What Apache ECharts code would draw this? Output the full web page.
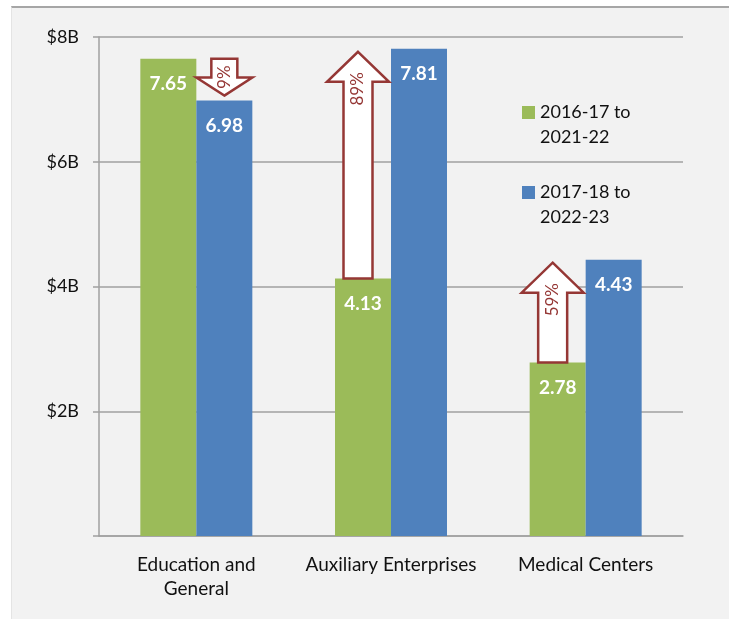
<!DOCTYPE html>
<html>
<head>
<meta charset="utf-8">
<script src="https://cdn.jsdelivr.net/npm/echarts@6/dist/echarts.min.js"></script>
<style>
html,body{margin:0;padding:0;background:#fff;}
#panel{position:absolute;left:11px;top:6px;width:718px;height:613px;background:#f2f2f2;border-top:2px solid #a6a6a6;border-left:1px solid #e4e4e4;box-sizing:border-box;}
#container{position:absolute;left:0;top:0;width:729px;height:619px;}
</style>
</head>
<body>
<div id="panel"></div>
<div id="container"></div>
<script>
var categories = ['Education and\nGeneral', 'Auxiliary Enterprises', 'Medical Centers'];
var seriesNames = ['2016-17 to 2021-22', '2017-18 to 2022-23'];
var earlyValues = [7.65, 4.13, 2.78];
var lateValues = [6.98, 7.81, 4.43];
var changeLabels = ['9%', '89%', '59%'];
var yTicks = [0, 2, 4, 6, 8];

var FONT = 'Lato, "Noto Sans", sans-serif';
var arrowRed = '#953735';

// arrow data: category, from (early), to (late), label
var arrowData = [];
for (var i = 0; i < categories.length; i++) {
	arrowData.push([i, earlyValues[i], lateValues[i], changeLabels[i]]);
}

function renderArrow(params, api) {
	var from = api.coord([api.value(0), api.value(1)]);
	var to = api.coord([api.value(0), api.value(2)]);
	var down = api.value(2) < api.value(1);
	var pts, cx, hw, sw, headH, tipY, baseY, textY;
	if (down) {
		//down arrow sits over the second bar
		cx = from[0] + 28;
		hw = 28; sw = 13; headH = 18;
		baseY = from[1];
		tipY = to[1] - 5;
		pts = [[cx, tipY], [cx + hw, tipY - headH], [cx + sw, tipY - headH], [cx + sw, baseY],
			[cx - sw, baseY], [cx - sw, tipY - headH], [cx - hw, tipY - headH]];
		textY = (baseY + tipY) / 2;
	} else {
		cx = from[0] - 33;
		hw = 31; sw = 14.5; headH = 30;
		baseY = from[1];
		tipY = to[1] + 3;
		pts = [[cx, tipY], [cx + hw, tipY + headH], [cx + sw, tipY + headH], [cx + sw, baseY],
			[cx - sw, baseY], [cx - sw, tipY + headH], [cx - hw, tipY + headH]];
		textY = tipY + 37;
	}
	return {
		type: 'group',
		children: [{
			type: 'polygon',
			shape: {points: pts},
			style: {fill: '#ffffff', stroke: arrowRed, lineWidth: 2.5}
		}, {
			type: 'text',
			x: cx,
			y: textY,
			rotation: Math.PI / 2,
			style: {
				text: api.value(3),
				x: 0, y: 0,
				align: 'center', verticalAlign: 'middle',
				textAlign: 'center', textVerticalAlign: 'middle',
				fill: arrowRed,
				font: '17px ' + FONT
			}
		}]
	};
}

var legendText = {
	color: '#111',
	fontSize: 18,
	fontFamily: FONT,
	lineHeight: 25
};
//blank first line so the icon lines up with the first text line
function legendFormat(n) {
	return '\n' + n.replace(' to ', ' to\n');
}

var option = {
	backgroundColor: 'transparent',
	animation: false,
	grid: {left: 99, right: 46, top: 37, bottom: 83, containLabel: false},
	legend: [{
		data: [seriesNames[0]],
		left: 522, top: 75, padding: 0,
		itemWidth: 13, itemHeight: 13, itemGap: 5,
		icon: 'rect',
		formatter: legendFormat,
		textStyle: legendText
	}, {
		data: [seriesNames[1]],
		left: 522, top: 155, padding: 0,
		itemWidth: 13, itemHeight: 13, itemGap: 5,
		icon: 'rect',
		formatter: legendFormat,
		textStyle: legendText
	}],
	xAxis: {
		type: 'category',
		data: categories,
		axisLine: {show: true, lineStyle: {color: '#a0a0a0', width: 1.5}},
		axisTick: {show: false},
		axisLabel: {
			color: '#111', fontSize: 19, fontFamily: FONT,
			lineHeight: 24, margin: 17, interval: 0
		}
	},
	yAxis: {
		type: 'value',
		min: yTicks[0], max: yTicks[yTicks.length - 1], interval: 2,
		axisLine: {show: true, lineStyle: {color: '#a0a0a0', width: 1.5}},
		axisTick: {show: true, length: 6, lineStyle: {color: '#a0a0a0', width: 1.5}},
		splitLine: {show: true, lineStyle: {color: '#a0a0a0', width: 1.5}},
		axisLabel: {
			color: '#111', fontSize: 18, fontFamily: FONT, margin: 20,
			formatter: function (v) { return v === 0 ? '' : '$' + v + 'B'; }
		}
	},
	series: [{
		name: seriesNames[0],
		type: 'bar',
		data: earlyValues,
		barWidth: 56,
		barGap: '0%',
		itemStyle: {color: '#9bbb59'},
		label: {
			show: true, position: 'insideTop', distance: 16,
			color: '#fff', fontWeight: 'bold', fontSize: 19, fontFamily: FONT,
			formatter: function (p) { return p.value.toFixed(2); }
		}
	}, {
		name: seriesNames[1],
		type: 'bar',
		data: lateValues,
		barWidth: 56,
		barGap: '0%',
		itemStyle: {color: '#4f81bd'},
		label: {
			show: true, position: 'insideTop', distance: 16,
			color: '#fff', fontWeight: 'bold', fontSize: 19, fontFamily: FONT,
			formatter: function (p) { return p.value.toFixed(2); }
		}
	}, {
		name: 'change',
		type: 'custom',
		data: arrowData,
		encode: {x: 0, y: [1, 2]},
		renderItem: renderArrow,
		silent: true,
		clip: false,
		z: 5
	}]
};

var myChart = echarts.init(document.getElementById('container'));
myChart.setOption(option, true);
</script>
</body>
</html>
